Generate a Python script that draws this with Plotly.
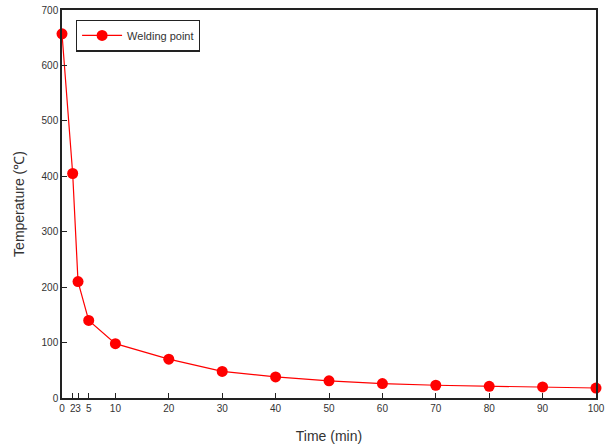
import plotly.graph_objects as go

time_min = [0, 2, 3, 5, 10, 20, 30, 40, 50, 60, 70, 80, 90, 100]
temperature = [657, 405, 210, 140, 98, 70, 48, 38, 31, 26, 23, 21, 20, 18]
x_ticks = [0, 2, 3, 5, 10, 20, 30, 40, 50, 60, 70, 80, 90, 100]
x_tick_text = ["0", "2", "3", "5", "10", "20", "30", "40", "50", "60", "70", "80", "90", "100"]
y_ticks = [0, 100, 200, 300, 400, 500, 600, 700]

fig = go.Figure()
fig.add_trace(go.Scatter(
    x=time_min, y=temperature, mode="lines+markers", name="Welding point",
    line=dict(color="#ff0000", width=1.2),
    marker=dict(color="#ff0000", size=11),
    cliponaxis=False,
))

axis_common = dict(
    showline=True, linecolor="#222", linewidth=1.5, mirror=True,
    ticks="inside", ticklen=5, tickwidth=1.2, tickcolor="#222",
    showgrid=False, zeroline=False, automargin=False,
    tickfont=dict(family="Liberation Sans, Arial", size=10, color="#333"),
)

fig.update_layout(
    width=606, height=444,
    margin=dict(l=62, r=10, t=10, b=46),
    paper_bgcolor="white", plot_bgcolor="white",
    font=dict(family="Liberation Sans, Arial", color="#333"),
    showlegend=True,
    legend=dict(
        x=0.026, y=0.975, xanchor="left", yanchor="top",
        bordercolor="#222", borderwidth=1.2, bgcolor="white",
        font=dict(size=11, color="#333"),
        itemwidth=40,
    ),
    xaxis=dict(
        range=[0, 100], tickvals=x_ticks, ticktext=x_tick_text, tickangle=0,
        title=dict(text="Time (min)", font=dict(size=14, color="#333"), standoff=19),
        **axis_common,
    ),
    yaxis=dict(
        range=[0, 700], tickvals=y_ticks,
        title=dict(text="Temperature (℃)", font=dict(size=14, color="#333"), standoff=14),
        **axis_common,
    ),
)

fig.write_html("out.html")
